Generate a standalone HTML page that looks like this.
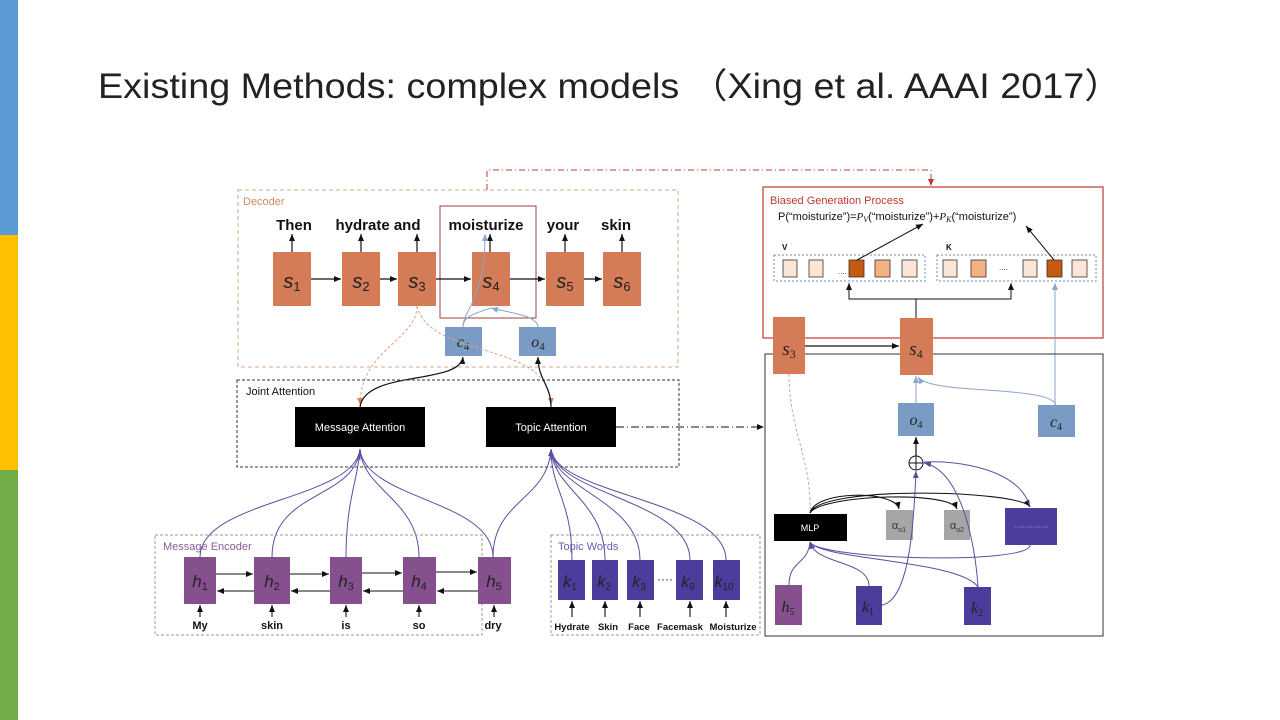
<!DOCTYPE html>
<html><head><meta charset="utf-8"><style>
body{margin:0;width:1280px;height:720px;overflow:hidden;background:#fff}
svg{display:block}
text{font-family:"Liberation Sans","Noto Sans CJK SC",sans-serif}
.m{font-family:"Liberation Serif",serif;font-style:italic}
</style></head><body>
<svg width="1280" height="720" viewBox="0 0 1280 720" xmlns="http://www.w3.org/2000/svg">
<defs>
<marker id="a" markerWidth="8" markerHeight="8" refX="7" refY="4" orient="auto" markerUnits="userSpaceOnUse"><path d="M0,1 L7,4 L0,7z" fill="#111"/></marker>
<marker id="ab" markerWidth="8" markerHeight="8" refX="7" refY="4" orient="auto" markerUnits="userSpaceOnUse"><path d="M0,1 L7,4 L0,7z" fill="#8aa6cc"/></marker>
<marker id="ap" markerWidth="8" markerHeight="8" refX="7" refY="4" orient="auto" markerUnits="userSpaceOnUse"><path d="M0,1 L7,4 L0,7z" fill="#5b4ea0"/></marker>
<marker id="ao" markerWidth="8" markerHeight="8" refX="7" refY="4" orient="auto" markerUnits="userSpaceOnUse"><path d="M0,1 L7,4 L0,7z" fill="#d08a66"/></marker>
<marker id="ar" markerWidth="8" markerHeight="8" refX="7" refY="4" orient="auto" markerUnits="userSpaceOnUse"><path d="M0,1 L7,4 L0,7z" fill="#c0392b"/></marker>
</defs>
<rect x="0" y="0" width="18" height="235" fill="#5b9bd5"/>
<rect x="0" y="235" width="18" height="235" fill="#ffc000"/>
<rect x="0" y="470" width="18" height="250" fill="#70ad47"/>
<text x="98" y="98" font-size="35" fill="#222" textLength="1024" lengthAdjust="spacingAndGlyphs">Existing Methods: complex models （Xing et al. AAAI 2017）</text>

<!-- red dash-dot top link -->
<path d="M487,190 V170 H931 V186" fill="none" stroke="#c0392b" stroke-width="1" stroke-dasharray="6,3,1,3" marker-end="url(#ar)"/>

<!-- Decoder -->
<rect x="238" y="190" width="440" height="177" fill="none" stroke="#d9a58a" stroke-dasharray="4,3"/>
<text x="243" y="205" font-size="11" fill="#d08a66">Decoder</text>
<rect x="440" y="206" width="96" height="112" fill="none" stroke="#a04040"/>
<g font-size="15" font-weight="bold" fill="#111" text-anchor="middle">
<text x="294" y="230">Then</text><text x="378" y="230">hydrate and</text><text x="486" y="230">moisturize</text><text x="563" y="230">your</text><text x="616" y="230">skin</text>
</g>
<g fill="#d47b57">
<rect x="273" y="252" width="38" height="54"/><rect x="342" y="252" width="38" height="54"/><rect x="398" y="252" width="38" height="54"/><rect x="472" y="252" width="38" height="54"/><rect x="546" y="252" width="38" height="54"/><rect x="603" y="252" width="38" height="54"/>
</g>
<g class="m" font-size="20" fill="#222" text-anchor="middle">
<text x="292" y="288">s<tspan font-size="13" dy="3" font-style="normal">1</tspan></text>
<text x="361" y="288">s<tspan font-size="13" dy="3" font-style="normal">2</tspan></text>
<text x="417" y="288">s<tspan font-size="13" dy="3" font-style="normal">3</tspan></text>
<text x="491" y="288">s<tspan font-size="13" dy="3" font-style="normal">4</tspan></text>
<text x="565" y="288">s<tspan font-size="13" dy="3" font-style="normal">5</tspan></text>
<text x="622" y="288">s<tspan font-size="13" dy="3" font-style="normal">6</tspan></text>
</g>
<g stroke="#111" stroke-width="1.2" marker-end="url(#a)">
<line x1="292" y1="252" x2="292" y2="234"/><line x1="361" y1="252" x2="361" y2="234"/><line x1="417" y1="252" x2="417" y2="234"/><line x1="490" y1="252" x2="490" y2="234"/><line x1="565" y1="252" x2="565" y2="234"/><line x1="622" y1="252" x2="622" y2="234"/>
<line x1="311" y1="279" x2="341" y2="279"/><line x1="380" y1="279" x2="397" y2="279"/><line x1="436" y1="279" x2="471" y2="279"/><line x1="510" y1="279" x2="545" y2="279"/><line x1="584" y1="279" x2="602" y2="279"/>
</g>
<path d="M463,327 C463,310 485,300 485,234" fill="none" stroke="#8aa6cc" marker-end="url(#ab)"/>
<path d="M463,327 C463,315 480,312 491,308 M538,327 C538,315 505,312 491,308" fill="none" stroke="#8aa6cc" marker-end="url(#ab)"/>
<rect x="445" y="327" width="37" height="29" fill="#7a9cc4"/><rect x="519" y="327" width="37" height="29" fill="#7a9cc4"/>
<text class="m" x="463" y="347" font-size="16" text-anchor="middle" fill="#222">c<tspan font-size="11" dy="3" font-style="normal">4</tspan></text>
<text class="m" x="538" y="347" font-size="16" text-anchor="middle" fill="#222">o<tspan font-size="11" dy="3" font-style="normal">4</tspan></text>
<!-- orange dashed from s3 -->
<path d="M417,306 C417,340 360,350 360,405" fill="none" stroke="#d9a58a" stroke-dasharray="3,2" marker-end="url(#ao)"/>
<path d="M417,306 C430,360 550,340 551,405" fill="none" stroke="#d9a58a" stroke-dasharray="3,2" marker-end="url(#ao)"/>
<path d="M360,407 C365,370 460,385 463,357" fill="none" stroke="#111" stroke-width="1.2" marker-end="url(#a)"/>
<path d="M551,407 C551,385 538,380 538,357" fill="none" stroke="#111" stroke-width="1.2" marker-end="url(#a)"/>

<!-- Joint attention -->
<rect x="237" y="380" width="442" height="87" fill="none" stroke="#333" stroke-dasharray="3,2"/>
<text x="246" y="395" font-size="11" fill="#111">Joint Attention</text>
<rect x="295" y="407" width="130" height="40" fill="#000"/><rect x="486" y="407" width="130" height="40" fill="#000"/>
<text x="360" y="431" font-size="11" fill="#fff" text-anchor="middle">Message Attention</text>
<text x="551" y="431" font-size="11" fill="#fff" text-anchor="middle">Topic Attention</text>
<line x1="616" y1="427" x2="764" y2="427" stroke="#111" stroke-dasharray="8,3,1,3" marker-end="url(#a)"/>

<!-- purple connections -->
<g fill="none" stroke="#5b4ea0" stroke-width="1">
<path d="M200,557 C200,500 355,500 360,449"/>
<path d="M272,557 C272,490 355,500 360,449"/>
<path d="M346,557 C346,500 358,480 360,449"/>
<path d="M419,557 C419,500 362,490 360,449"/>
<path d="M493,557 C493,500 365,500 360,449"/>
<path d="M493,557 C493,500 548,500 551,449"/>
<path d="M572,560 C572,500 551,490 551,449"/>
<path d="M605,560 C605,500 553,490 551,449"/>
<path d="M640,560 C640,500 553,490 551,449"/>
<path d="M690,560 C690,500 555,495 551,449"/>
<path d="M726,560 C726,500 555,495 551,449"/>
</g>
<path d="M360,460 L360,449 M551,460 L551,449" stroke="#5b4ea0" marker-end="url(#ap)"/>

<!-- Message encoder -->
<rect x="155" y="535" width="327" height="100" fill="none" stroke="#999" stroke-dasharray="3,2"/>
<text x="163" y="550" font-size="11" fill="#8a5a9c">Message Encoder</text>
<g fill="#86508f">
<rect x="184" y="557" width="32" height="47"/><rect x="254" y="557" width="36" height="47"/><rect x="330" y="557" width="32" height="47"/><rect x="403" y="557" width="33" height="47"/><rect x="478" y="557" width="33" height="47"/>
</g>
<g class="m" font-size="17" fill="#222" text-anchor="middle">
<text x="200" y="587">h<tspan font-size="11" dy="3" font-style="normal">1</tspan></text>
<text x="272" y="587">h<tspan font-size="11" dy="3" font-style="normal">2</tspan></text>
<text x="346" y="587">h<tspan font-size="11" dy="3" font-style="normal">3</tspan></text>
<text x="419" y="587">h<tspan font-size="11" dy="3" font-style="normal">4</tspan></text>
<text x="494" y="587">h<tspan font-size="11" dy="3" font-style="normal">5</tspan></text>
</g>
<g stroke="#111" stroke-width="1.1" marker-end="url(#a)">
<line x1="216" y1="574" x2="253" y2="574"/><line x1="290" y1="574" x2="329" y2="574"/><line x1="362" y1="573" x2="402" y2="573"/><line x1="436" y1="572" x2="477" y2="572"/>
<line x1="254" y1="591" x2="217" y2="591"/><line x1="330" y1="591" x2="291" y2="591"/><line x1="403" y1="591" x2="363" y2="591"/><line x1="478" y1="591" x2="437" y2="591"/>
<line x1="200" y1="617" x2="200" y2="605"/><line x1="272" y1="617" x2="272" y2="605"/><line x1="346" y1="617" x2="346" y2="605"/><line x1="419" y1="617" x2="419" y2="605"/><line x1="494" y1="617" x2="494" y2="605"/>
<line x1="572" y1="617" x2="572" y2="601"/><line x1="605" y1="617" x2="605" y2="601"/><line x1="640" y1="617" x2="640" y2="601"/><line x1="690" y1="617" x2="690" y2="601"/><line x1="726" y1="617" x2="726" y2="601"/>
</g>
<g font-size="11" font-weight="bold" fill="#111" text-anchor="middle">
<text x="200" y="629">My</text><text x="272" y="629">skin</text><text x="346" y="629">is</text><text x="419" y="629">so</text><text x="493" y="629">dry</text>
</g>
<!-- Topic words -->
<rect x="551" y="535" width="209" height="100" fill="none" stroke="#999" stroke-dasharray="3,2"/>
<text x="558" y="550" font-size="11" fill="#6a5aad">Topic Words</text>
<g fill="#4a3d9c">
<rect x="558" y="560" width="27" height="40"/><rect x="592" y="560" width="26" height="40"/><rect x="627" y="560" width="27" height="40"/><rect x="676" y="560" width="27" height="40"/><rect x="713" y="560" width="27" height="40"/>
</g>
<g class="m" font-size="16" fill="#222" text-anchor="middle">
<text x="570" y="587">k<tspan font-size="10" dy="3" font-style="normal">1</tspan></text>
<text x="604" y="587">k<tspan font-size="10" dy="3" font-style="normal">2</tspan></text>
<text x="639" y="587">k<tspan font-size="10" dy="3" font-style="normal">3</tspan></text>
<text x="688" y="587">k<tspan font-size="10" dy="3" font-style="normal">9</tspan></text>
<text x="724" y="587">k<tspan font-size="10" dy="3" font-style="normal">10</tspan></text>
</g>
<text x="665" y="583" font-size="12" fill="#222" text-anchor="middle">····</text>
<g font-size="9.5" font-weight="bold" fill="#111" text-anchor="middle">
<text x="572" y="630">Hydrate</text><text x="608" y="630">Skin</text><text x="639" y="630">Face</text><text x="680" y="630">Facemask</text><text x="733" y="630">Moisturize</text>
</g>

<!-- Right: biased generation -->
<rect x="763" y="187" width="340" height="151" fill="none" stroke="#c0392b" stroke-width="1.2"/>
<text x="770" y="204" font-size="11" fill="#c0392b">Biased Generation Process</text>
<text x="778" y="220" font-size="11" fill="#111">P(“moisturize”)=<tspan class="m">P</tspan><tspan font-size="8" dy="2" class="m">V</tspan><tspan dy="-2">(“moisturize”)+</tspan><tspan class="m">P</tspan><tspan font-size="8" dy="2" class="m">K</tspan><tspan dy="-2">(“moisturize”)</tspan></text>
<text x="782" y="250" font-size="8" font-weight="bold" fill="#111">V</text>
<text x="946" y="250" font-size="8" font-weight="bold" fill="#111">K</text>
<rect x="774" y="255" width="151" height="26" fill="none" stroke="#6a8cb0" stroke-dasharray="2,2"/>
<rect x="937" y="255" width="159" height="26" fill="none" stroke="#6a8cb0" stroke-dasharray="2,2"/>
<g stroke="#333" stroke-width="0.8">
<rect x="783" y="260" width="14" height="17" fill="#fbe5d6"/><rect x="809" y="260" width="14" height="17" fill="#fbe5d6"/>
<rect x="849" y="260" width="15" height="17" fill="#c55a11"/><rect x="875" y="260" width="15" height="17" fill="#f4b183"/><rect x="902" y="260" width="15" height="17" fill="#fbe5d6"/>
<rect x="943" y="260" width="14" height="17" fill="#fbe5d6"/><rect x="971" y="260" width="15" height="17" fill="#f4b183"/>
<rect x="1023" y="260" width="14" height="17" fill="#fbe5d6"/><rect x="1047" y="260" width="15" height="17" fill="#c55a11"/><rect x="1072" y="260" width="15" height="17" fill="#fbe5d6"/>
</g>
<text x="838" y="274" font-size="8" fill="#333">....</text><text x="999" y="270" font-size="8" fill="#333">....</text>
<g stroke="#111" stroke-width="1" fill="none" marker-end="url(#a)">
<line x1="857" y1="260" x2="923" y2="224"/><line x1="1054" y1="260" x2="1026" y2="226"/>
<path d="M916,318 V299 H849 V283"/><path d="M916,299 H1011 V283"/>
</g>
<line x1="1055" y1="405" x2="1055" y2="283" stroke="#8aa6cc" marker-end="url(#ab)"/>

<!-- Bottom right box -->
<rect x="765" y="354" width="338" height="282" fill="none" stroke="#333" stroke-width="1"/>
<rect x="773" y="317" width="32" height="57" fill="#d47b57"/><rect x="900" y="318" width="33" height="57" fill="#d47b57"/>
<text class="m" x="789" y="355" font-size="19" fill="#222" text-anchor="middle">s<tspan font-size="12" dy="3" font-style="normal">3</tspan></text>
<text class="m" x="916" y="355" font-size="19" fill="#222" text-anchor="middle">s<tspan font-size="12" dy="3" font-style="normal">4</tspan></text>
<line x1="805" y1="346" x2="899" y2="346" stroke="#111" stroke-width="1.2" marker-end="url(#a)"/>
<rect x="898" y="403" width="36" height="33" fill="#7a9cc4"/><rect x="1038" y="405" width="37" height="32" fill="#7a9cc4"/>
<text class="m" x="916" y="425" font-size="16" fill="#222" text-anchor="middle">o<tspan font-size="10" dy="3" font-style="normal">4</tspan></text>
<text class="m" x="1056" y="427" font-size="16" fill="#222" text-anchor="middle">c<tspan font-size="10" dy="3" font-style="normal">4</tspan></text>
<line x1="916" y1="403" x2="916" y2="376" stroke="#8aa6cc" marker-end="url(#ab)"/>
<path d="M1056,405 C1050,385 930,395 918,377" fill="none" stroke="#8aa6cc" marker-end="url(#ab)"/>
<circle cx="916" cy="463" r="7" fill="#fff" stroke="#111"/><path d="M909,463 H923 M916,456 V470" stroke="#111"/>
<line x1="916" y1="456" x2="916" y2="437" stroke="#111" stroke-width="1.2" marker-end="url(#a)"/>
<path d="M789,374 C789,430 812,460 810,513" fill="none" stroke="#d9a58a" stroke-dasharray="3,2"/>
<rect x="774" y="514" width="73" height="27" fill="#000"/>
<text x="810" y="531" font-size="9" fill="#fff" text-anchor="middle">MLP</text>
<rect x="886" y="510" width="27" height="30" fill="#a6a6a6"/><rect x="944" y="510" width="26" height="30" fill="#a6a6a6"/>
<text x="899" y="529" font-size="11" fill="#333" text-anchor="middle" font-family="Liberation Serif">α<tspan font-size="7" dy="3">o1</tspan></text>
<text x="957" y="529" font-size="11" fill="#333" text-anchor="middle" font-family="Liberation Serif">α<tspan font-size="7" dy="3">o2</tspan></text>
<rect x="1005" y="508" width="52" height="37" fill="#4a3d9c"/>
<line x1="1015" y1="527" x2="1048" y2="527" stroke="#8a80c8" stroke-dasharray="1,1"/>
<g fill="none" stroke="#111" stroke-width="1.1" marker-end="url(#a)">
<path d="M810,513 C815,490 895,490 899,509"/>
<path d="M810,513 C820,495 950,490 957,509"/>
<path d="M810,513 C820,485 1020,490 1030,507"/>
</g>
<g fill="none" stroke="#5b4ea0" stroke-width="1">
<path d="M789,585 C789,560 808,565 810,542"/>
<path d="M869,586 C869,560 815,565 810,542"/>
<path d="M978,587 C960,560 820,560 810,542"/>
<path d="M1030,545 C1030,565 820,560 810,542"/>
<path d="M882,605 C910,600 914,520 916,471" marker-end="url(#ap)"/>
<path d="M978,587 C975,540 960,470 924,463" marker-end="url(#ap)"/>
<path d="M1030,507 C1020,470 960,460 924,462"/>
</g>
<path d="M812,548 L810,542" stroke="#5b4ea0" marker-end="url(#ap)"/>
<rect x="775" y="585" width="27" height="40" fill="#86508f"/><rect x="856" y="586" width="26" height="39" fill="#4a3d9c"/><rect x="964" y="587" width="27" height="38" fill="#4a3d9c"/>
<text class="m" x="788" y="612" font-size="16" fill="#222" text-anchor="middle">h<tspan font-size="10" dy="3" font-style="normal">5</tspan></text>
<text class="m" x="868" y="612" font-size="16" fill="#222" text-anchor="middle">k<tspan font-size="10" dy="3" font-style="normal">1</tspan></text>
<text class="m" x="977" y="613" font-size="16" fill="#222" text-anchor="middle">k<tspan font-size="10" dy="3" font-style="normal">2</tspan></text>
</svg>
</body></html>
